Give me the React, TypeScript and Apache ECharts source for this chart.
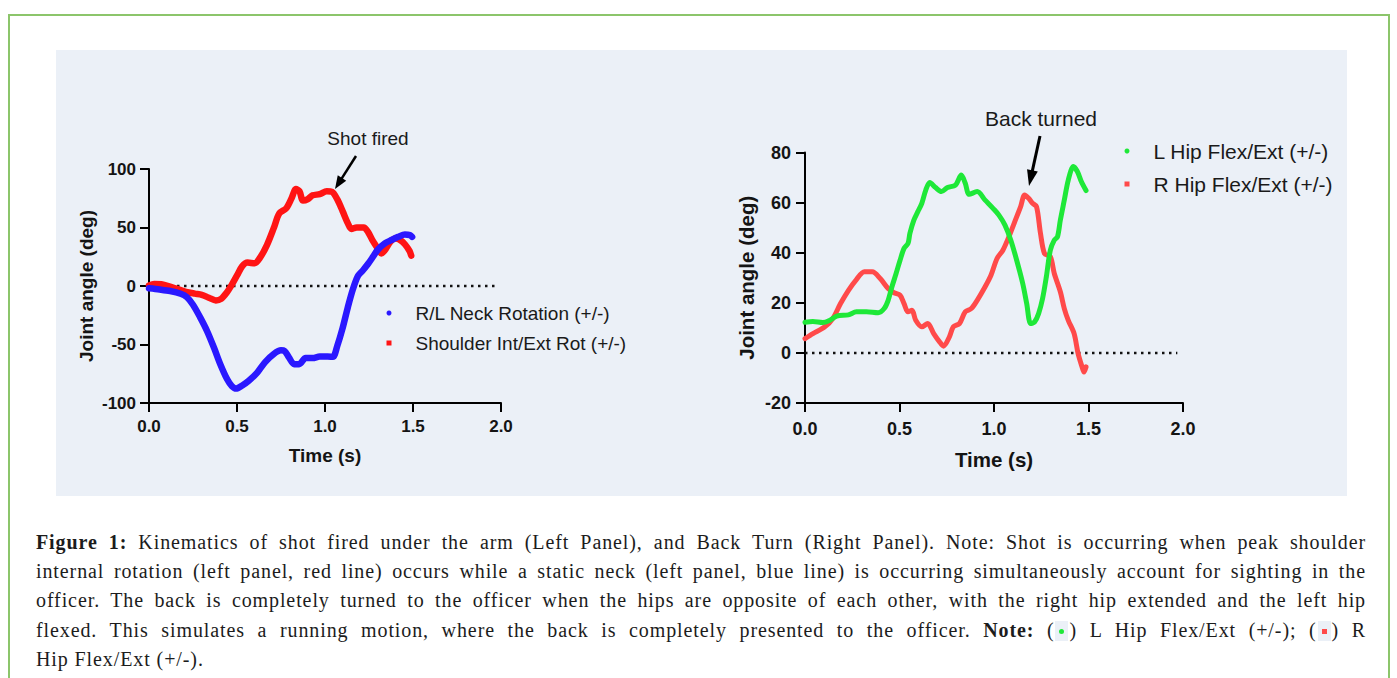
import React, { useEffect, useRef } from "react";
import * as echarts from "echarts";

// ---------- DATA ----------
// Left panel (time s, joint angle deg)
const shoulderData: [number, number][] = [
  [0, 0.5], [0.03, 1.8], [0.07, 1.5], [0.11, 0], [0.16, -2.5], [0.21, -5], [0.26, -6.5],
  [0.3, -7.5], [0.34, -10], [0.38, -12.3], [0.41, -11], [0.44, -6], [0.47, 1], [0.5, 9],
  [0.53, 17], [0.56, 20], [0.6, 19.5], [0.63, 24], [0.67, 35], [0.71, 50], [0.74, 62],
  [0.78, 66.5], [0.81, 75], [0.835, 82.8], [0.855, 81], [0.875, 73], [0.9, 74], [0.93, 77.5],
  [0.97, 78.5], [1.01, 81], [1.04, 80.5], [1.07, 74], [1.1, 64], [1.13, 53.5], [1.15, 48.7],
  [1.18, 50], [1.22, 50], [1.245, 46], [1.27, 39], [1.3, 32], [1.32, 27.8], [1.34, 30.5],
  [1.37, 37.5], [1.4, 40.5], [1.43, 39], [1.455, 35.5], [1.48, 30], [1.49, 26],
];
const neckData: [number, number][] = [
  [0, -2], [0.06, -3], [0.12, -4.3], [0.18, -6.6], [0.215, -9.5], [0.25, -16], [0.29, -26.6],
  [0.33, -38.5], [0.37, -53], [0.405, -66.8], [0.445, -80], [0.47, -85.4], [0.495, -87.7],
  [0.53, -85], [0.567, -81], [0.615, -74], [0.66, -65], [0.71, -58], [0.75, -55], [0.77, -55.5],
  [0.795, -61], [0.825, -66.8], [0.853, -66.8], [0.89, -61.6], [0.93, -61.6], [0.97, -60.3],
  [1.015, -60.3], [1.045, -60.5], [1.07, -51], [1.1, -36], [1.13, -18], [1.158, -3],
  [1.187, 8.5], [1.216, 13.5], [1.245, 19], [1.275, 25.5], [1.3, 31], [1.34, 36.4],
  [1.378, 39.3], [1.416, 42], [1.454, 44], [1.483, 43.5], [1.495, 42],
];
// Right panel
const lHipData: [number, number][] = [
  [0, 12.2], [0.042, 12.5], [0.094, 12.1], [0.126, 12.8], [0.168, 14.7], [0.23, 15.2],
  [0.272, 16.4], [0.325, 16.4], [0.387, 16], [0.419, 17.7], [0.44, 21], [0.46, 26.4],
  [0.482, 31.7], [0.503, 37], [0.524, 41.7], [0.545, 43.7], [0.555, 47.7], [0.576, 53],
  [0.597, 56.4], [0.618, 59.7], [0.639, 65], [0.66, 68], [0.691, 66], [0.722, 64.4],
  [0.754, 66], [0.796, 67], [0.827, 71], [0.848, 67.7], [0.869, 63.3], [0.911, 64.4],
  [0.953, 61], [0.995, 57.7], [1.026, 55], [1.058, 51], [1.089, 45], [1.12, 37],
  [1.152, 27.7], [1.173, 19.7], [1.194, 11.7], [1.215, 12.4], [1.236, 15.7], [1.257, 21.7],
  [1.277, 30.4], [1.298, 41], [1.319, 45], [1.336, 46.4], [1.351, 53], [1.372, 61],
  [1.393, 69], [1.42, 74.4], [1.441, 72.4], [1.462, 68.4], [1.487, 64.8],
];
const rHipData: [number, number][] = [
  [0, 5.7], [0.042, 7.7], [0.105, 10.4], [0.147, 13.7], [0.188, 19.7], [0.23, 25],
  [0.272, 29.3], [0.314, 32.4], [0.356, 32.4], [0.398, 29.7], [0.44, 25.7], [0.471, 24],
  [0.503, 23], [0.524, 19.7], [0.545, 16.4], [0.566, 17], [0.586, 13], [0.618, 10.4],
  [0.649, 11.7], [0.681, 7.7], [0.712, 4.4], [0.733, 2.7], [0.764, 6.4], [0.785, 10.4],
  [0.817, 11.7], [0.848, 16.4], [0.88, 17.7], [0.911, 21], [0.953, 26.4], [0.984, 31],
  [1.016, 37.7], [1.047, 41], [1.079, 46.4], [1.11, 52.4], [1.141, 58.4], [1.162, 63],
  [1.183, 61.7], [1.204, 59.7], [1.225, 58.4], [1.246, 47.7], [1.267, 39.7], [1.298, 38.4],
  [1.319, 31.7], [1.351, 24.4], [1.372, 17.7], [1.393, 13], [1.424, 7.7], [1.445, -0.3],
  [1.466, -5.6], [1.476, -7.6], [1.487, -5.6],
];
const zeroLine: [number, number][] = [[0, 0], [1.97, 0]];

const leftNames = ["R/L Neck Rotation (+/-)", "Shoulder Int/Ext Rot (+/-)"];
const rightNames = ["L Hip Flex/Ext (+/-)", "R Hip Flex/Ext (+/-)"];
const yTitle = "Joint angle (deg)";
const xTitle = "Time (s)";
const shotLabel = "Shot fired";
const backLabel = "Back turned";

const SANS = "'Liberation Sans', Arial, sans-serif";

function arrow(x1: number, y1: number, x2: number, y2: number, headLen: number, headW: number, w: number) {
  const dx = x2 - x1, dy = y2 - y1;
  const L = Math.sqrt(dx * dx + dy * dy);
  const ux = dx / L, uy = dy / L;
  const bx = x2 - headLen * ux, by = y2 - headLen * uy;
  const px = -uy, py = ux;
  return [
    { type: "line", shape: { x1, y1, x2: bx + ux, y2: by + uy }, style: { stroke: "#000", lineWidth: w }, z: 50 },
    {
      type: "polygon",
      shape: { points: [[x2, y2], [bx + headW * px, by + headW * py], [bx - headW * px, by - headW * py]] },
      style: { fill: "#000" }, z: 50,
    },
  ];
}

function axisCommon(fs: number, margin: number) {
  return {
    type: "value" as const,
    axisLine: { show: true, onZero: false, lineStyle: { color: "#000", width: 2 } },
    axisTick: { show: true, length: 9, lineStyle: { color: "#000", width: 2 } },
    splitLine: { show: false },
    axisLabel: { fontSize: fs, fontWeight: "bold", color: "#141414", fontFamily: SANS, margin },
  };
}

export default function App() {
  const ref = useRef<HTMLDivElement>(null);
  useEffect(() => {
    if (!ref.current) return;
    const chart = echarts.init(ref.current, undefined, { renderer: "svg" });
    const option: any = {
      animation: false,
      backgroundColor: "transparent",
      grid: [
        { left: 149, top: 169, width: 352, height: 234, outerBoundsMode: "none" },
        { left: 805, top: 152.5, width: 378, height: 250.5, outerBoundsMode: "none" },
      ],
      xAxis: [
        {
          ...axisCommon(17, 15), gridIndex: 0, min: 0, max: 2, interval: 0.5,
          axisLabel: { ...axisCommon(17, 15).axisLabel, formatter: (v: number) => v.toFixed(1) },
          name: xTitle, nameLocation: "middle", nameGap: 43,
          nameTextStyle: { fontSize: 19, fontWeight: "bold", color: "#141414", fontFamily: SANS },
        },
        {
          ...axisCommon(18, 17), gridIndex: 1, min: 0, max: 2, interval: 0.5,
          axisLabel: { ...axisCommon(18, 17).axisLabel, formatter: (v: number) => v.toFixed(1) },
          name: xTitle, nameLocation: "middle", nameGap: 46,
          nameTextStyle: { fontSize: 20.5, fontWeight: "bold", color: "#141414", fontFamily: SANS },
        },
      ],
      yAxis: [
        {
          ...axisCommon(17, 13), gridIndex: 0, min: -100, max: 100, interval: 50,
          name: yTitle, nameLocation: "middle", nameGap: 53,
          nameTextStyle: { fontSize: 19, fontWeight: "bold", color: "#141414", fontFamily: SANS },
        },
        {
          ...axisCommon(18, 14), gridIndex: 1, min: -20, max: 80, interval: 20,
          name: yTitle, nameLocation: "middle", nameGap: 48,
          nameTextStyle: { fontSize: 20.5, fontWeight: "bold", color: "#141414", fontFamily: SANS },
        },
      ],
      legend: [
        {
          data: [
            { name: leftNames[0], icon: "circle" },
            { name: leftNames[1], icon: "rect" },
          ],
          orient: "vertical", left: 386.5, top: 303.5, padding: 0,
          itemWidth: 5, itemHeight: 5, itemGap: 11, selectedMode: false,
          textStyle: { fontSize: 19, lineHeight: 19, color: "#1a1a1a", fontFamily: SANS, padding: [0, 0, 0, 19] },
        },
        {
          data: [
            { name: rightNames[0], icon: "circle" },
            { name: rightNames[1], icon: "rect" },
          ],
          orient: "vertical", left: 1124.5, top: 140.5, padding: 0,
          itemWidth: 5, itemHeight: 5, itemGap: 12, selectedMode: false,
          textStyle: { fontSize: 21, lineHeight: 21, color: "#1a1a1a", fontFamily: SANS, padding: [0, 0, 0, 19] },
        },
      ],
      series: [
        {
          type: "line", xAxisIndex: 0, yAxisIndex: 0, data: zeroLine, showSymbol: false, silent: true,
          lineStyle: { color: "#111", width: 2.5, type: [2.5, 4.5] },
        },
        {
          type: "line", xAxisIndex: 1, yAxisIndex: 1, data: zeroLine, showSymbol: false, silent: true,
          lineStyle: { color: "#111", width: 2.5, type: [2.5, 4.5] },
        },
        {
          name: leftNames[1], type: "line", xAxisIndex: 0, yAxisIndex: 0, data: shoulderData,
          showSymbol: false, smooth: 0.3, color: "#ff1414",
          lineStyle: { width: 6.5, cap: "round", join: "round", color: "#ff1414" },
        },
        {
          name: leftNames[0], type: "line", xAxisIndex: 0, yAxisIndex: 0, data: neckData,
          showSymbol: false, smooth: 0.3, color: "#2a18ff",
          lineStyle: { width: 6.5, cap: "round", join: "round", color: "#2a18ff" },
        },
        {
          name: rightNames[1], type: "line", xAxisIndex: 1, yAxisIndex: 1, data: rHipData,
          showSymbol: false, smooth: 0.3, color: "#ff4a4a",
          lineStyle: { width: 5, cap: "round", join: "round", color: "#ff4a4a" },
        },
        {
          name: rightNames[0], type: "line", xAxisIndex: 1, yAxisIndex: 1, data: lHipData,
          showSymbol: false, smooth: 0.3, color: "#1ee838",
          lineStyle: { width: 5, cap: "round", join: "round", color: "#1ee838" },
        },
      ],
      graphic: {
        elements: [
          {
            type: "rect", shape: { x: 56, y: 50, width: 1291, height: 446 },
            style: { fill: "#ebf0f7" }, z: -100, silent: true,
          },
          {
            type: "text", x: 368, y: 138, z: 50,
            style: { text: shotLabel, fontSize: 19, fontFamily: SANS, fill: "#1a1a1a", align: "center", verticalAlign: "middle" },
          },
          {
            type: "text", x: 1041, y: 118, z: 50,
            style: { text: backLabel, fontSize: 21, fontFamily: SANS, fill: "#1a1a1a", align: "center", verticalAlign: "middle" },
          },
          ...arrow(356, 156, 335, 189, 13, 5, 2.5),
          ...arrow(1040, 136, 1029, 186, 16, 5.5, 3),
        ],
      },
    };
    chart.setOption(option);
    return () => chart.dispose();
  }, []);

  const lineStyle: React.CSSProperties = {
    height: 29.2,
    lineHeight: "29.2px",
    textAlign: "justify",
    textAlignLast: "justify",
    whiteSpace: "normal",
  };
  const iconBox: React.CSSProperties = {
    display: "inline-block",
    width: 13,
    height: 20,
    background: "#ebf0f7",
    verticalAlign: "-4px",
    position: "relative",
    margin: "0 1px",
    letterSpacing: 0,
  };

  return (
    <div style={{ position: "absolute", left: 0, top: 0, width: 1397, height: 678, background: "#fff", overflow: "hidden" }}>
      <div
        style={{
          position: "absolute", left: 8, top: 14, width: 1382, height: 700,
          border: "2px solid #8cc56b", boxSizing: "border-box",
        }}
      />
      <div ref={ref} style={{ position: "absolute", left: 0, top: 0, width: 1397, height: 500 }} />
      <div
        style={{
          position: "absolute", left: 36, top: 528, width: 1330,
          fontFamily: "'Liberation Serif', 'Times New Roman', serif", fontSize: 20, color: "#1c1c1c",
          letterSpacing: "0.9px",
        }}
      >
        <div style={lineStyle}>
          <b>Figure 1:</b> Kinematics of shot fired under the arm (Left Panel), and Back Turn (Right Panel). Note: Shot is occurring when peak shoulder
        </div>
        <div style={lineStyle}>
          internal rotation (left panel, red line) occurs while a static neck (left panel, blue line) is occurring simultaneously account for sighting in the
        </div>
        <div style={lineStyle}>
          officer. The back is completely turned to the officer when the hips are opposite of each other, with the right hip extended and the left hip
        </div>
        <div style={lineStyle}>
          flexed. This simulates a running motion, where the back is completely presented to the officer. <b>Note:</b> (
          <span style={iconBox}>
            <span style={{ position: "absolute", left: 4, top: 8, width: 5, height: 5, borderRadius: "50%", background: "#1ee838" }} />
          </span>
          ) L Hip Flex/Ext (+/-); (
          <span style={iconBox}>
            <span style={{ position: "absolute", left: 4, top: 8, width: 5, height: 5, background: "#ff4a4a" }} />
          </span>
          ) R
        </div>
        <div style={{ ...lineStyle, textAlign: "left", textAlignLast: "left" }}>Hip Flex/Ext (+/-).</div>
      </div>
    </div>
  );
}
